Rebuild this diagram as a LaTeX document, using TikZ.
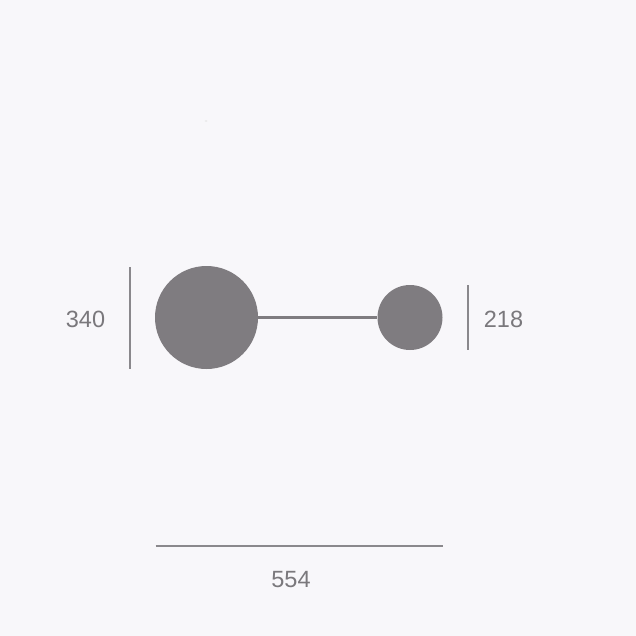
\documentclass[tikz,border=0pt]{standalone}
\usepackage{fontspec}
\setmainfont{Liberation Sans}
\definecolor{bg}{HTML}{F8F7FA}
\definecolor{dot}{HTML}{7F7C80}
\definecolor{dim}{HTML}{8A888C}
\definecolor{lbl}{HTML}{7A787C}
\tikzset{
  ball/.style={circle, fill=dot, draw=none, inner sep=0pt},
  link/.style={draw=dot, line width=2.2bp},
  dimline/.style={draw=dim, line width=2bp},
  dimlabel/.style={text=lbl, font=\fontsize{23.5bp}{28bp}\selectfont, inner sep=0pt, anchor=center}
}
\begin{document}
\begin{tikzpicture}[x=1bp,y=-1bp]
\fill[bg] (0,0) rectangle (636,636);
\useasboundingbox (0,0) rectangle (636,636);
\fill[black!12] (206,121) ellipse (1.5bp and 0.6bp);
\node[ball, minimum size=103bp] (big) at (206.5,317.5) {};
\node[ball, minimum size=65bp] (small) at (410,317.5) {};
\draw[link] (big.east) -- (small.west);
\coordinate (l1) at (130,267);
\coordinate (l2) at (130,369);
\draw[dimline] (l1) -- (l2);
\node[dimlabel] (t340) at (85.5,319) {340};
\coordinate (r1) at (467.5,285);
\coordinate (r2) at (467.5,350);
\draw[dimline] (r1) -- (r2);
\node[dimlabel] (t218) at (503.5,319) {218};
\coordinate (b1) at (155.5,546);
\coordinate (b2) at (442.5,546);
\draw[dimline] (b1) -- (b2);
\node[dimlabel] (t554) at (291,579.5) {554};
\end{tikzpicture}
\end{document}
